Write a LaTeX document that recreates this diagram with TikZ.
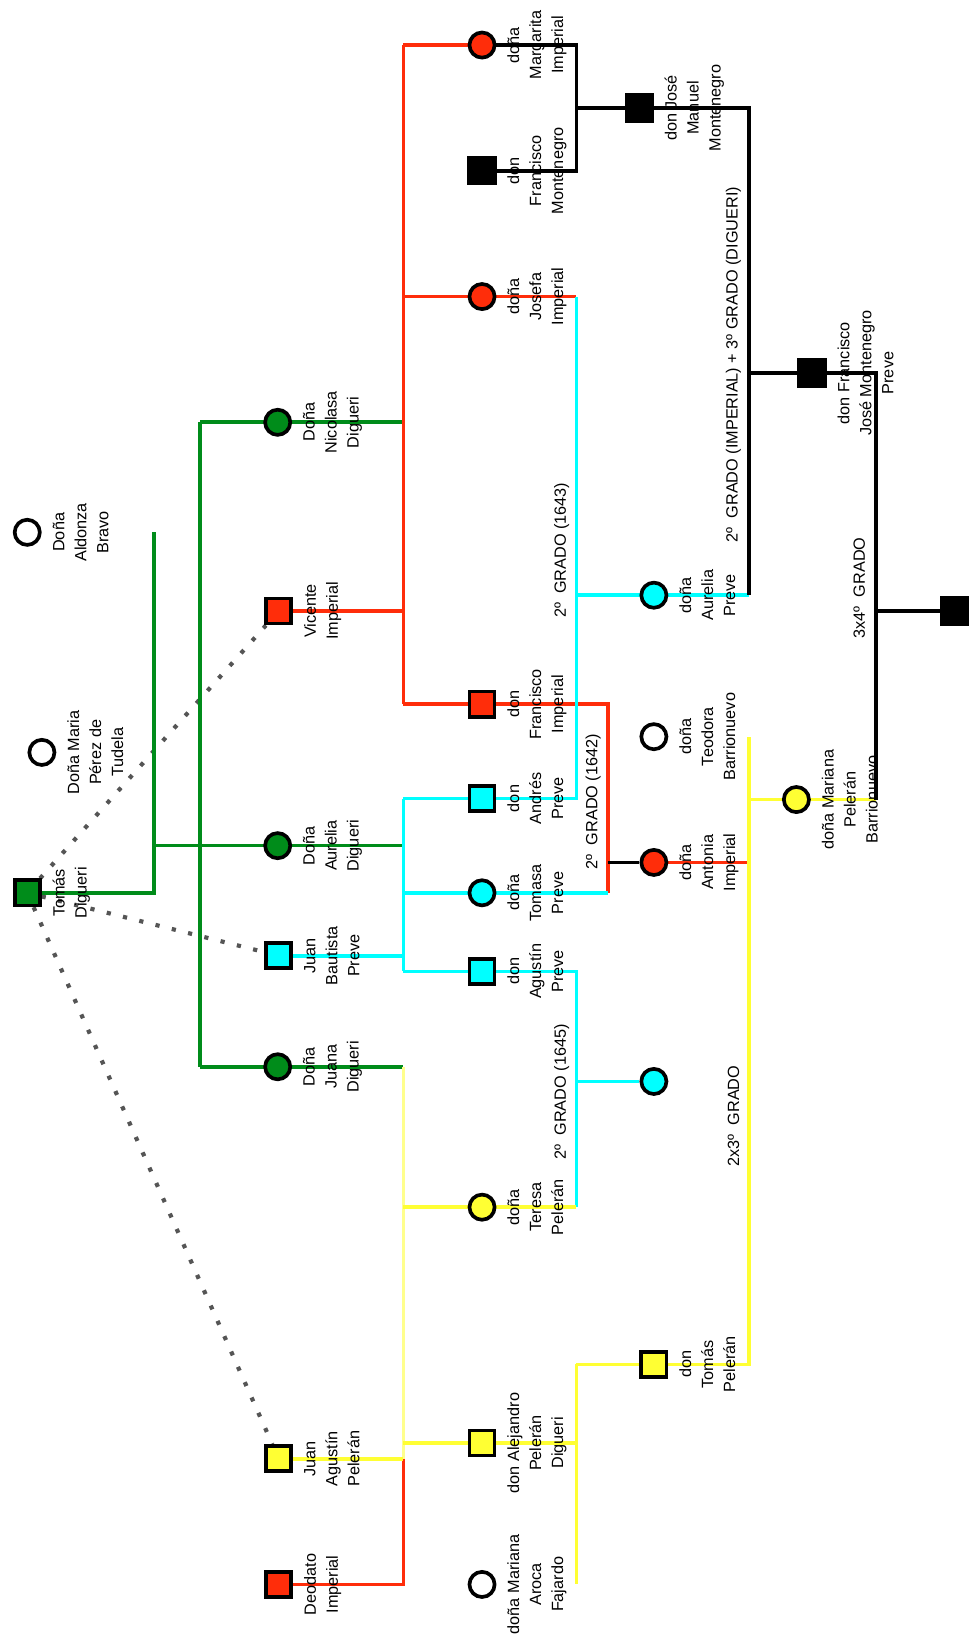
\documentclass[tikz,border=0pt]{standalone}
\usepackage{fontspec}
\setmainfont{Liberation Sans}
\usetikzlibrary{backgrounds}
\definecolor{gr}{RGB}{0,140,26}
\definecolor{rd}{RGB}{255,45,10}
\definecolor{cy}{RGB}{0,255,255}
\definecolor{ye}{RGB}{255,255,51}
\definecolor{ly}{RGB}{255,255,140}
\definecolor{dg}{RGB}{85,85,85}
\begin{document}
\begin{tikzpicture}[x=1pt,y=-1pt,
  sq/.style={rectangle,draw=black,line width=3.5pt,minimum size=24pt,inner sep=0pt},
  ci/.style={circle,draw=black,line width=3.5pt,minimum size=24pt,inner sep=0pt},
  bsq/.style={rectangle,fill=black,minimum size=28pt,inner sep=0pt},
  lbl/.style={rotate=90,anchor=north,align=center,inner sep=0pt,font=\fontsize{15.5}{21}\selectfont,execute at begin node={\rule{0pt}{12pt}}},
  gl/.style={rotate=90,inner sep=0pt,font=\fontsize{15.5}{21}\selectfont},
  ln/.style={line width=3.5pt},
  dl/.style={draw=dg,line width=4pt,dash pattern=on 4pt off 12pt}
]
\useasboundingbox (0,0) rectangle (925,1566);
% persons
\node[sq,fill=gr] (tomas) at (26,852) {};
\node[ci,fill=white] (maria) at (40,718) {};
\node[ci,fill=white] (aldonza) at (26,508) {};
\node[ci,fill=gr] (nicolasa) at (265,403) {};
\node[sq,fill=rd] (vicente) at (266,583) {};
\node[ci,fill=gr] (aureliaD) at (265,807) {};
\node[sq,fill=cy] (juanB) at (266,912) {};
\node[ci,fill=gr] (juana) at (265,1018) {};
\node[sq,fill=ye] (juanA) at (266,1392) {};
\node[sq,fill=rd] (deodato) at (266,1512) {};
\node[ci,fill=rd] (margarita) at (460,43) {};
\node[bsq] (franM) at (460,163) {};
\node[ci,fill=rd] (josefa) at (460,283) {};
\node[sq,fill=rd] (franI) at (460,672) {};
\node[sq,fill=cy] (andres) at (460,762) {};
\node[ci,fill=cy] (tomasa) at (460,852) {};
\node[sq,fill=cy] (agustin) at (460,927) {};
\node[ci,fill=ye] (teresa) at (460,1152) {};
\node[sq,fill=ye] (alejandro) at (460,1377) {};
\node[ci,fill=white] (marianaA) at (460,1512) {};
\node[bsq] (jose) at (610,103) {};
\node[ci,fill=cy] (aureliaP) at (624,568) {};
\node[ci,fill=white] (teodora) at (624,703) {};
\node[ci,fill=rd] (antonia) at (624,823) {};
\node[ci,fill=cy] (anon) at (624,1032) {};
\node[sq,fill=ye] (tomasP) at (624,1302) {};
\node[bsq] (franJ) at (775,356) {};
\node[ci,fill=ye] (marianaP) at (760,763) {};
\node[bsq] (last) at (911,583) {};
% labels
\node[lbl] (tomas-l) at ([xshift=24pt]tomas.center) {Tomás\\Digueri};
\node[lbl] (maria-l) at ([xshift=24pt]maria.center) {Doña Maria\\Pérez de\\Tudela};
\node[lbl] (aldonza-l) at ([xshift=24pt]aldonza.center) {Doña\\Aldonza\\Bravo};
\node[lbl] (nicolasa-l) at ([xshift=24pt]nicolasa.center) {Doña\\Nicolasa\\Digueri};
\node[lbl] (vicente-l) at ([xshift=24pt]vicente.center) {Vicente\\Imperial};
\node[lbl] (aureliaD-l) at ([xshift=24pt]aureliaD.center) {Doña\\Aurelia\\Digueri};
\node[lbl] (juanB-l) at ([xshift=24pt]juanB.center) {Juan\\Bautista\\Preve};
\node[lbl] (juana-l) at ([xshift=24pt]juana.center) {Doña\\Juana\\Digueri};
\node[lbl] (juanA-l) at ([xshift=24pt]juanA.center) {Juan\\Agustín\\Pelerán};
\node[lbl] (deodato-l) at ([xshift=24pt]deodato.center) {Deodato\\Imperial};
\node[lbl] (margarita-l) at ([xshift=24pt]margarita.center) {doña\\Margarita\\Imperial};
\node[lbl] (franM-l) at ([xshift=24pt]franM.center) {don\\Francisco\\Montenegro};
\node[lbl] (josefa-l) at ([xshift=24pt]josefa.center) {doña\\Josefa\\Imperial};
\node[lbl] (franI-l) at ([xshift=24pt]franI.center) {don\\Francisco\\Imperial};
\node[lbl] (andres-l) at ([xshift=24pt]andres.center) {don\\Andrés\\Preve};
\node[lbl] (tomasa-l) at ([xshift=24pt]tomasa.center) {doña\\Tomasa\\Preve};
\node[lbl] (agustin-l) at ([xshift=24pt]agustin.center) {don\\Agustín\\Preve};
\node[lbl] (teresa-l) at ([xshift=24pt]teresa.center) {doña\\Teresa\\Pelerán};
\node[lbl] (alejandro-l) at ([xshift=24pt]alejandro.center) {don Alejandro\\Pelerán\\Digueri};
\node[lbl] (marianaA-l) at ([xshift=24pt]marianaA.center) {doña Mariana\\Aroca\\Fajardo};
\node[lbl] (jose-l) at ([xshift=24pt]jose.center) {don José\\Manuel\\Montenegro};
\node[lbl] (aureliaP-l) at ([xshift=24pt]aureliaP.center) {doña\\Aurelia\\Preve};
\node[lbl] (teodora-l) at ([xshift=24pt]teodora.center) {doña\\Teodora\\Barrionuevo};
\node[lbl] (antonia-l) at ([xshift=24pt]antonia.center) {doña\\Antonia\\Imperial};
\node[lbl] (tomasP-l) at ([xshift=24pt]tomasP.center) {don\\Tomás\\Pelerán};
\node[lbl] (franJ-l) at ([xshift=24pt]franJ.center) {don Francisco\\José Montenegro\\Preve};
\node[lbl] (marianaP-l) at ([xshift=24pt]marianaP.center) {doña Mariana\\Pelerán\\Barrionuevo};
% grado labels
\node[gl] (g1643) at (536,525) {2º\ \ GRADO (1643)};
\node[gl] (g1642) at (566,765) {2º\ \ GRADO (1642)};
\node[gl] (g1645) at (536,1042) {2º\ \ GRADO (1645)};
\node[gl] (gimp) at (700,348) {2º\ \ GRADO (IMPERIAL) + 3º GRADO (DIGUERI)};
\node[gl] (g34) at (820,561) {3x4º\ \ GRADO};
\node[gl] (g23) at (700,1065) {2x3º\ \ GRADO};
% bus x positions
\coordinate (xA) at (147,0);
\coordinate (xB) at (191,0);
\coordinate (xC) at (385,0);
\coordinate (xD) at (550,0);
\coordinate (xE) at (580,0);
\coordinate (xF) at (715,0);
\coordinate (xG) at (836,0);
\begin{scope}[on background layer]
% dotted
\draw[dl] (tomas) -- (vicente);
\draw[dl] (tomas) -- (juanB);
\draw[dl] (tomas) -- (juanA);
% green
\draw[ln,gr] (tomas) -- (tomas -| xA) -- (aldonza -| xA);
\draw[ln,gr] (aureliaD -| xA) -- (aureliaD -| xC);
\draw[ln,gr] (nicolasa -| xB) -- (juana -| xB);
\draw[ln,gr] (nicolasa -| xB) -- (nicolasa -| xC);
\draw[ln,gr] (juana -| xB) -- (juana -| xC);
% light yellow
\draw[ln,ly] (juana -| xC) -- (juanA -| xC);
% red
\draw[ln,rd] (vicente) -- (vicente -| xC);
\draw[ln,rd] (margarita -| xC) -- (franI -| xC);
\draw[ln,rd] (margarita -| xC) -- (margarita);
\draw[ln,rd] (josefa -| xC) -- (josefa -| xD);
\draw[ln,rd] (franI -| xC) -- (franI -| xE) -- (tomasa -| xE);
\draw[ln,rd] (deodato) -- (deodato -| xC) -- (juanA -| xC);
\draw[ln,rd] (antonia) -- (antonia -| xF);
% cyan
\draw[ln,cy] (juanB) -- (juanB -| xC);
\draw[ln,cy] (andres -| xC) -- (agustin -| xC);
\draw[ln,cy] (andres -| xC) -- (andres -| xD) -- (josefa -| xD);
\draw[ln,cy] (aureliaP -| xD) -- (aureliaP -| xF);
\draw[ln,cy] (tomasa -| xC) -- (tomasa -| xE);
\draw[ln,cy] (agustin -| xC) -- (agustin -| xD) -- (teresa -| xD);
\draw[ln,cy] (anon -| xD) -- (anon);
% yellow
\draw[ln,ye] (teresa -| xC) -- (teresa -| xD);
\draw[ln,ye] (alejandro -| xC) -- (alejandro -| xD);
\draw[ln,ye] (juanA) -- (juanA -| xC);
\draw[ln,ye] (tomasP -| xD) -- (marianaA -| xD);
\draw[ln,ye] (tomasP -| xD) -- (tomasP -| xF) -- (teodora -| xF);
\draw[ln,ye] (marianaP -| xF) -- (marianaP -| xG);
% black
\draw[ln,black] (margarita) -- (margarita -| xD) -- (franM -| xD) -- (franM);
\draw[ln,black] (jose -| xD) -- (jose -| xF) -- (aureliaP -| xF);
\draw[ln,black] (franJ -| xF) -- (franJ -| xG) -- (marianaP -| xG);
\draw[ln,black] (last -| xG) -- (last);
\draw[ln,black] (antonia -| xE) -- (antonia);
\end{scope}
\end{tikzpicture}
\end{document}
